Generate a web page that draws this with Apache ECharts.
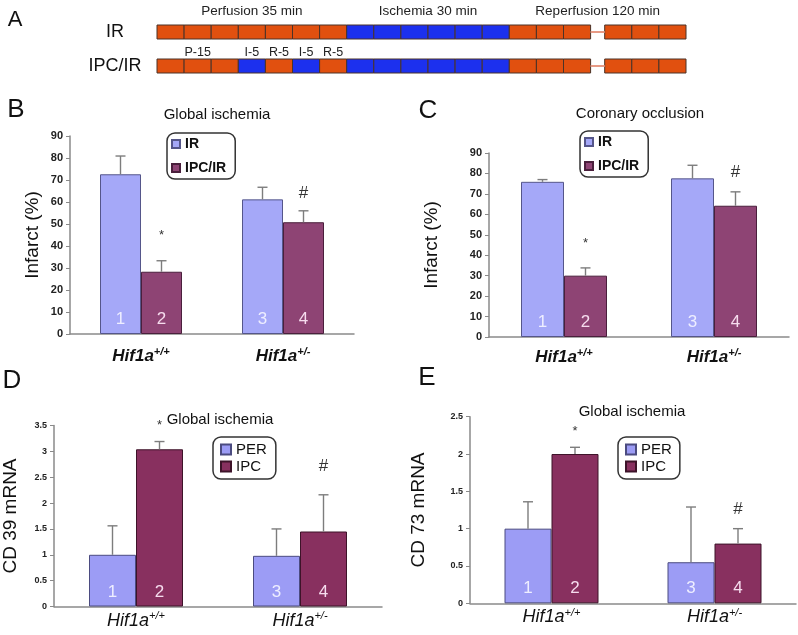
<!DOCTYPE html>
<html><head><meta charset="utf-8">
<script src="https://cdn.jsdelivr.net/npm/echarts@6/dist/echarts.min.js"></script>
<style>html,body{margin:0;padding:0;background:#fff}#c{width:798px;height:635px}</style>
</head><body><div id="c"></div><script>
// ---------- Panel A data (protocol scheme, one entry per 5-min box) ----------
const schemeRows = ['IR', 'IPC/IR'];
const irSequence  = ['P','P','P','P','P','P','P','I','I','I','I','I','I','R','R','R','R','R','R'];
const ipcSequence = ['P','P','P','I','R','I','R','I','I','I','I','I','I','R','R','R','R','R','R'];
const breakAfterBox = 16;
const phaseNames = ['Perfusion 35 min', 'Ischemia 30 min', 'Reperfusion 120 min'];
const phaseBoxes = [[0, 7], [7, 13], [13, 19]];
const ipcStepNames = ['P-15', 'I-5', 'R-5', 'I-5', 'R-5'];
const ipcStepBoxes = [[0, 3], [3, 4], [4, 5], [5, 6], [6, 7]];

// ---------- Panels B–E data ----------
const genotypes = ['+/+', '+/-'];
const barNumbersFirst = [1, 3];
const barNumbersSecond = [2, 4];
const sigFirst = ['', ''];
const sigSecond = ['*', '#'];

const globalIR = [72.6, 61.2];      const globalIRErr = [8.3, 5.5];
const globalIPC = [28.3, 50.8];     const globalIPCErr = [5.0, 5.2];
const coronIR = [75.9, 77.6];       const coronIRErr = [1.1, 6.4];
const coronIPC = [30.0, 64.2];      const coronIPCErr = [3.8, 6.8];
const cd39PER = [1.0, 0.98];        const cd39PERErr = [0.56, 0.52];
const cd39IPC = [3.04, 1.45];       const cd39IPCErr = [0.15, 0.71];
const cd73PER = [1.0, 0.55];        const cd73PERErr = [0.36, 0.74];
const cd73IPC = [2.0, 0.8];         const cd73IPCErr = [0.09, 0.2];

// ---------- styles ----------
const FONT = "'Liberation Sans', Arial, Helvetica, sans-serif";
const GAP = 0.52;
const ORANGE = '#E1500F', BLUE = '#1C30EE';
const BOX_H = 14;

function startUnit(i) { return i + (i >= breakAfterBox ? GAP : 0); }
function endUnit(i) { return (i + 1) + (i + 1 > breakAfterBox ? GAP : 0); }

const boxData = [];
[irSequence, ipcSequence].forEach((seq, row) => {
  seq.forEach((k, i) => boxData.push([startUnit(i), endUnit(i), row, k === 'I' ? 1 : 0]));
});
const breakData = [0, 1].map(row => [breakAfterBox, breakAfterBox + GAP, row]);
const phaseData = phaseBoxes.map(b => [startUnit(b[0]), endUnit(b[1] - 1), 0]);
const stepData = ipcStepBoxes.map(b => [startUnit(b[0]), endUnit(b[1] - 1), 1]);

const chart = echarts.init(document.getElementById('c'));

const panels = [
  null,
  {grid:{left:70, top:136, width:284, height:198}, bw:41, c1:'#A5A8F8', c2:'#8E4474', b1:'#55568a', b2:'#4a1f3c',
   names:['IR','IPC/IR'], v1:globalIR, e1:globalIRErr, v2:globalIPC, e2:globalIPCErr,
   y:{min:0,max:90,interval:10}, yName:'Infarct (%)', nameGap:28, tickFont:11, catFont:17, catWeight:'bold', catMargin:12,
   sigOff:{'*':25,'#':17}},
  {grid:{left:489, top:153, width:300, height:184}, bw:43, c1:'#A5A8F8', c2:'#8E4474', b1:'#55568a', b2:'#4a1f3c',
   names:['IR','IPC/IR'], v1:coronIR, e1:coronIRErr, v2:coronIPC, e2:coronIPCErr,
   y:{min:0,max:90,interval:10}, yName:'Infarct (%)', nameGap:48, tickFont:11, catFont:17, catWeight:'bold', catMargin:10,
   sigOff:{'*':24,'#':20}},
  {grid:{left:52, top:425.5, width:330, height:181}, bw:47, c1:'#9C9CF5', c2:'#88305F', b1:'#4b4b80', b2:'#3d1329',
   names:['PER','IPC'], v1:cd39PER, e1:cd39PERErr, v2:cd39IPC, e2:cd39IPCErr,
   y:{min:0,max:3.5,interval:0.5}, yName:'CD 39 mRNA', nameGap:34, tickFont:9, catFont:18, catWeight:'normal', catMargin:4,
   sigOff:{'*':16,'#':28}},
  {grid:{left:470, top:416.7, width:326, height:186.6}, bw:47, c1:'#9C9CF5', c2:'#88305F', b1:'#4b4b80', b2:'#3d1329',
   names:['PER','IPC'], v1:cd73PER, e1:cd73PERErr, v2:cd73IPC, e2:cd73IPCErr,
   y:{min:0,max:2.5,interval:0.5}, yName:'CD 73 mRNA', nameGap:42, tickFont:9, catFont:18, catWeight:'normal', catMargin:4,
   sigOff:{'*':16,'#':19}}
];

function errRender(offset, sigs, st) {
  return function (params, api) {
    const cat = api.value(0), v = api.value(1), e = api.value(2);
    const base = api.coord([cat, v]);
    const top = api.coord([cat, v + e]);
    const x = base[0] + offset;
    const children = [
      {type:'line', shape:{x1:x, y1:base[1], x2:x, y2:top[1]}, style:{stroke:'#7d7d7d', lineWidth:1.4}},
      {type:'line', shape:{x1:x - 5, y1:top[1], x2:x + 5, y2:top[1]}, style:{stroke:'#7d7d7d', lineWidth:1.4}}
    ];
    const s = sigs[params.dataIndex];
    if (s) {
      children.push({type:'text', style:{text:s, x:x, y:top[1] - st.sigOff[s], align:'center', verticalAlign:'middle',
        font:(s === '*' ? '13px ' : '17px ') + FONT, fill:'#333'}});
    }
    return {type:'group', children};
  };
}

const grids = [{left:157, top:15, width:529, height:68}];
const xAxes = [{gridIndex:0, type:'value', min:0, max:19 + GAP, show:false}];
const yAxes = [{gridIndex:0, type:'category', data:schemeRows, inverse:true,
  axisLine:{show:false}, axisTick:{show:false}, splitLine:{show:false},
  axisLabel:{fontSize:18, fontFamily:FONT, color:'#111', align:'center', margin:42}}];

const series = [
  {type:'custom', xAxisIndex:0, yAxisIndex:0, encode:{x:[0,1], y:2}, data:boxData, silent:true,
   renderItem(params, api) {
     const p0 = api.coord([api.value(0), api.value(2)]);
     const p1 = api.coord([api.value(1), api.value(2)]);
     return {type:'rect', shape:{x:p0[0], y:p0[1] - BOX_H / 2, width:p1[0] - p0[0], height:BOX_H},
       style:{fill: api.value(3) === 1 ? BLUE : ORANGE, stroke:'#4b3328', lineWidth:1}};
   }},
  {type:'custom', xAxisIndex:0, yAxisIndex:0, encode:{x:[0,1], y:2}, data:breakData, silent:true,
   renderItem(params, api) {
     const p0 = api.coord([api.value(0), api.value(2)]);
     const p1 = api.coord([api.value(1), api.value(2)]);
     return {type:'line', shape:{x1:p0[0], y1:p0[1], x2:p1[0], y2:p1[1]}, style:{stroke:'#e79a85', lineWidth:2}};
   }},
  {type:'custom', xAxisIndex:0, yAxisIndex:0, encode:{x:[0,1], y:2}, data:phaseData, silent:true,
   renderItem(params, api) {
     const p0 = api.coord([api.value(0), api.value(2)]);
     const p1 = api.coord([api.value(1), api.value(2)]);
     return {type:'text', style:{text:phaseNames[params.dataIndex], x:(p0[0] + p1[0]) / 2, y:p0[1] - 21,
       align:'center', verticalAlign:'middle', font:'13.5px ' + FONT, fill:'#222'}};
   }},
  {type:'custom', xAxisIndex:0, yAxisIndex:0, encode:{x:[0,1], y:2}, data:stepData, silent:true,
   renderItem(params, api) {
     const p0 = api.coord([api.value(0), api.value(2)]);
     const p1 = api.coord([api.value(1), api.value(2)]);
     return {type:'text', style:{text:ipcStepNames[params.dataIndex], x:(p0[0] + p1[0]) / 2, y:p0[1] - 13,
       align:'center', verticalAlign:'middle', font:'12.5px ' + FONT, fill:'#222'}};
   }}
];

const legends = [];
const legendPos = [null,
  {left:167, top:133, padding:[4,9,4,4], itemWidth:8, itemHeight:8, itemGap:10, font:14, weight:'bold'},
  {left:580, top:131, padding:[4,9,4,4], itemWidth:8, itemHeight:8, itemGap:10, font:14, weight:'bold'},
  {left:213, top:437, padding:[5,9,5,7], itemWidth:10, itemHeight:10, itemGap:2, font:15, weight:'normal'},
  {left:618, top:437, padding:[5,8,5,7], itemWidth:10, itemHeight:10, itemGap:2, font:15, weight:'normal'}
];

for (let k = 1; k <= 4; k++) {
  const st = panels[k];
  grids.push(st.grid);
  xAxes.push({gridIndex:k, type:'category', data:genotypes,
    axisLine:{lineStyle:{color:'#8a8a8a', width:1.5}}, axisTick:{show:false},
    axisLabel:{margin:st.catMargin, formatter: v => '{i|Hif1a}{s|' + v + '}',
      rich:{i:{fontSize:st.catFont, fontStyle:'italic', fontWeight:st.catWeight, fontFamily:FONT, color:'#111', lineHeight:20},
            s:{fontSize:11, fontStyle:'italic', fontWeight:st.catWeight, fontFamily:FONT, color:'#111', verticalAlign:'top', lineHeight:11}}}});
  yAxes.push({gridIndex:k, type:'value', min:st.y.min, max:st.y.max, interval:st.y.interval,
    name:st.yName, nameLocation:'middle', nameRotate:90, nameGap:st.nameGap,
    nameTextStyle:{fontSize:19, fontFamily:FONT, color:'#111'},
    axisLine:{show:true, lineStyle:{color:'#8a8a8a', width:1.5}},
    axisTick:{show:true, length:4, lineStyle:{color:'#8a8a8a'}},
    axisLabel:{fontSize:st.tickFont, fontWeight:'bold', fontFamily:FONT, color:'#222', margin:7},
    splitLine:{show:false}});
  const lp = legendPos[k];
  legends.push({data:st.names, orient:'vertical', left:lp.left, top:lp.top, padding:lp.padding,
    itemWidth:lp.itemWidth, itemHeight:lp.itemHeight, itemGap:lp.itemGap, icon:'rect',
    borderColor:'#333', borderWidth:1.5, borderRadius:8, backgroundColor:'#fff',
    textStyle:{fontSize:lp.font, fontWeight:lp.weight, fontFamily:FONT, color:'#111'}});
  const lbl = (nums, col) => ({show:true, position:'insideBottom', distance:6,
    formatter: p => String(nums[p.dataIndex]), color:col, fontSize:17, fontFamily:FONT});
  series.push(
    {type:'bar', name:st.names[0], xAxisIndex:k, yAxisIndex:k, data:st.v1, barWidth:st.bw, barGap:'0%',
     itemStyle:{color:st.c1, borderColor:st.b1, borderWidth:1}, label:lbl(barNumbersFirst, '#eeeeff')},
    {type:'bar', name:st.names[1], xAxisIndex:k, yAxisIndex:k, data:st.v2, barWidth:st.bw, barGap:'0%',
     itemStyle:{color:st.c2, borderColor:st.b2, borderWidth:1}, label:lbl(barNumbersSecond, '#f6dcee')},
    {type:'custom', xAxisIndex:k, yAxisIndex:k, encode:{x:0, y:1}, z:5, silent:true,
     data:st.v1.map((v, i) => [i, v, st.e1[i]]), renderItem:errRender(-st.bw / 2, sigFirst, st)},
    {type:'custom', xAxisIndex:k, yAxisIndex:k, encode:{x:0, y:1}, z:5, silent:true,
     data:st.v2.map((v, i) => [i, v, st.e2[i]]), renderItem:errRender(st.bw / 2, sigSecond, st)}
  );
}

const txt = (t, x, y, size) => ({type:'text', x, y,
  style:{text:t, align:'center', verticalAlign:'middle', font:size + 'px ' + FONT, fill:'#111'}});

chart.setOption({
  animation:false,
  grid:grids, xAxis:xAxes, yAxis:yAxes, legend:legends, series,
  graphic:[
    txt('A', 15, 20, 22), txt('B', 16, 110, 26), txt('C', 428, 111, 26), txt('D', 12, 381, 26), txt('E', 427, 378, 26),
    txt('Global ischemia', 217, 115, 15), txt('Coronary occlusion', 640, 114, 15),
    txt('Global ischemia', 220, 420, 15), txt('Global ischemia', 632, 412, 15)
  ]
});
</script></body></html>
